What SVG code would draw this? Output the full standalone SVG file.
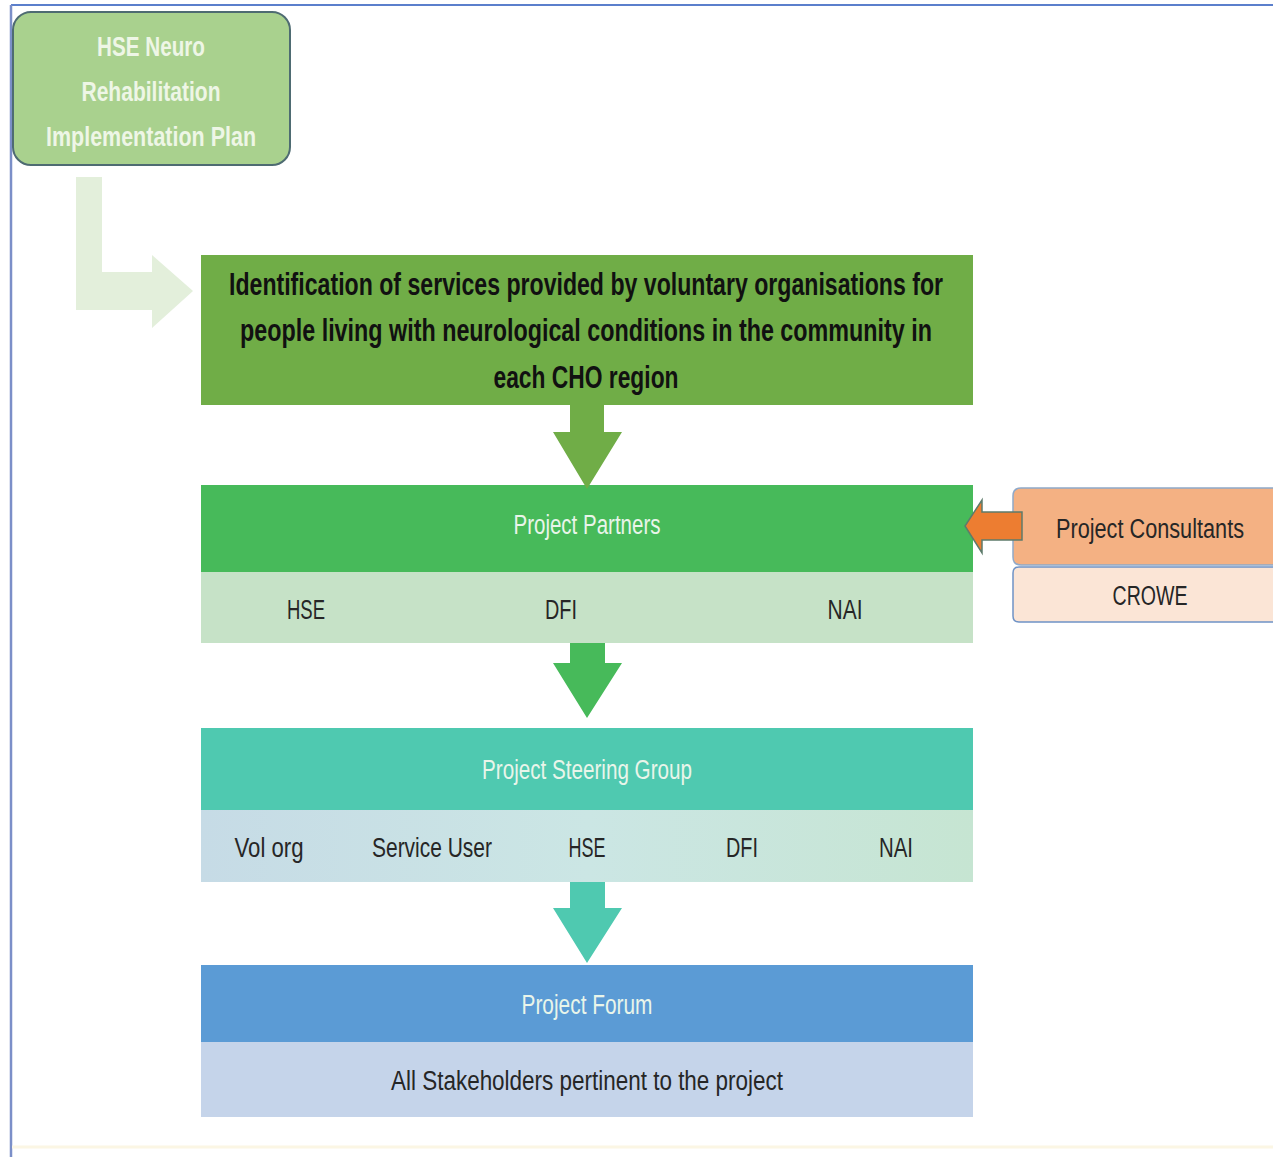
<svg xmlns="http://www.w3.org/2000/svg" width="1273" height="1157" viewBox="0 0 1273 1157">
<defs>
<style>
text{font-family:"Liberation Sans","DejaVu Sans",sans-serif;text-anchor:middle;}
.lbl{font-size:27px;fill:#262626;}
.wt{font-size:27px;fill:#e9f5ea;}
.main{font-size:31px;font-weight:bold;fill:#111;}
.hse{font-size:27px;font-weight:bold;fill:#eef6e6;}
</style>
<linearGradient id="steer" x1="0" y1="0" x2="1" y2="0">
<stop offset="0" stop-color="#c6dbe6"/>
<stop offset="0.5" stop-color="#cbe6e4"/>
<stop offset="1" stop-color="#c6e5d2"/>
</linearGradient>
</defs>
<rect x="0" y="0" width="1273" height="1157" fill="#ffffff"/>
<g id="frame">
<line x1="11" y1="5" x2="1273" y2="5" stroke="#5b7fcc" stroke-width="2"/>
<line x1="11" y1="5" x2="11" y2="1157" stroke="#7b8fc8" stroke-width="2.5"/>
<line x1="12" y1="1147" x2="1273" y2="1147" stroke="#fbf6e4" stroke-width="3"/>
</g>
<g id="hse-plan">
<rect x="13" y="12" width="277" height="153" rx="18" fill="#a9d18e" stroke="#4e6b72" stroke-width="2"/>
<text class="hse" x="151" y="56" textLength="108" lengthAdjust="spacingAndGlyphs">HSE Neuro</text>
<text class="hse" x="151" y="101" textLength="139" lengthAdjust="spacingAndGlyphs">Rehabilitation</text>
<text class="hse" x="151" y="146" textLength="210" lengthAdjust="spacingAndGlyphs">Implementation Plan</text>
</g>
<g id="identification">
<rect x="201" y="255" width="772" height="150" fill="#70ad47"/>
<text class="main" x="586" y="295" textLength="714" lengthAdjust="spacingAndGlyphs">Identification of services provided by voluntary organisations for</text>
<text class="main" x="586" y="341" textLength="692" lengthAdjust="spacingAndGlyphs">people living with neurological conditions in the community in</text>
<text class="main" x="586" y="388" textLength="185" lengthAdjust="spacingAndGlyphs">each CHO region</text>
</g>
<g id="project-partners">
<rect x="201" y="485" width="772" height="87" fill="#47ba5a"/>
<rect x="201" y="572" width="772" height="71" fill="#c6e2c7"/>
<text class="wt" x="587" y="534" textLength="147" lengthAdjust="spacingAndGlyphs">Project Partners</text>
<text class="lbl" x="306" y="619" textLength="38" lengthAdjust="spacingAndGlyphs">HSE</text>
<text class="lbl" x="561" y="619" textLength="32" lengthAdjust="spacingAndGlyphs">DFI</text>
<text class="lbl" x="845" y="619" textLength="35" lengthAdjust="spacingAndGlyphs">NAI</text>
</g>
<g id="project-consultants">
<path d="M1273,488 H1021 Q1013,488 1013,496 V557 Q1013,565 1021,565 H1273" fill="#f4b183" stroke="#8fa9c9" stroke-width="1.5"/>
<path d="M1273,567 H1019 Q1013,567 1013,573 V616 Q1013,622 1019,622 H1273" fill="#fbe5d6" stroke="#6f93c6" stroke-width="1.5"/>
<text class="lbl" x="1150" y="538" font-size="26" textLength="188" lengthAdjust="spacingAndGlyphs" fill="#3a2a20">Project Consultants</text>
<text class="lbl" x="1150" y="605" textLength="75" lengthAdjust="spacingAndGlyphs">CROWE</text>
</g>
<g id="steering-group">
<rect x="201" y="728" width="772" height="82" fill="#4fc9b0"/>
<rect x="201" y="810" width="772" height="72" fill="url(#steer)"/>
<text class="wt" x="587" y="779" textLength="210" lengthAdjust="spacingAndGlyphs">Project Steering Group</text>
<text class="lbl" x="269" y="857" textLength="69" lengthAdjust="spacingAndGlyphs">Vol org</text>
<text class="lbl" x="432" y="857" textLength="120" lengthAdjust="spacingAndGlyphs">Service User</text>
<text class="lbl" x="587" y="857" textLength="37" lengthAdjust="spacingAndGlyphs">HSE</text>
<text class="lbl" x="742" y="857" textLength="32" lengthAdjust="spacingAndGlyphs">DFI</text>
<text class="lbl" x="896" y="857" textLength="34" lengthAdjust="spacingAndGlyphs">NAI</text>
</g>
<g id="project-forum">
<rect x="201" y="965" width="772" height="77" fill="#5b9bd5"/>
<rect x="201" y="1042" width="772" height="75" fill="#c5d4ea"/>
<text class="wt" x="587" y="1014" textLength="131" lengthAdjust="spacingAndGlyphs">Project Forum</text>
<text class="lbl" x="587" y="1090" textLength="392" lengthAdjust="spacingAndGlyphs">All Stakeholders pertinent to the project</text>
</g>
<g id="connectors">
<path id="bent-arrow" d="M76,177 H102 V272 H152 V255 L193,291 L152,328 V310 H76 Z" fill="#e3efdb"/>
<path id="arrow1" d="M570,405 H604 V432 H622 L587,489 L553,432 H570 Z" fill="#70ad47"/>
<path id="arrow2" d="M570,643 H605 V663 H622 L587,718 L553,663 H570 Z" fill="#47ba5a"/>
<path id="arrow3" d="M570,882 H605 V908 H622 L587,963 L553,908 H570 Z" fill="#4fc9b0"/>
<path id="arrow-consultants" d="M1022,512 H982 V500 L965,526 L982,553 V540 H1022 Z" fill="#ed7d31" stroke="#5d7b6b" stroke-width="1.5"/>
</g>
</svg>
